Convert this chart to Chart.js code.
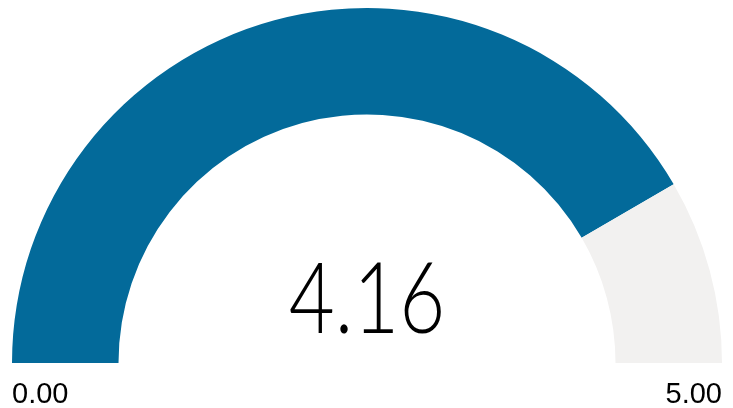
<!DOCTYPE html>
<html lang="en">
<head>
  <meta charset="UTF-8">
  <title>Gauge</title>
  <script src="https://cdn.jsdelivr.net/npm/chart.js"></script>
  <style>
    body { margin: 0; padding: 0; background: #fff; }
    .chart-container { position: relative; width: 733px; height: 408px; }
  </style>
</head>
<body>
  <div class="chart-container">
    <canvas id="gaugeChart"></canvas>
  </div>

  <script>
    // gauge data
    const gaugeMin = 0;
    const gaugeMax = 5;
    const gaugeValue = 4.16;
    const segmentColors = ['#036a9a', '#f2f1f0'];

    const ctx = document.getElementById('gaugeChart').getContext('2d');

    // value in the middle + min/max labels under the ends
    const gaugeTextPlugin = {
      id: 'gaugeText',
      afterDraw(chart) {
        const arc = chart.getDatasetMeta(0).data[0];
        const c = chart.ctx;
        const x = arc.x, y = arc.y, r = arc.outerRadius;
        c.save();
        c.fillStyle = '#000';
        c.textBaseline = 'alphabetic';

        // narrow the value a bit, the original font is condensed
        c.save();
        c.translate(x, y - 30);
        c.scale(0.81, 1);
        c.textAlign = 'center';
        c.font = '300 98px Lato';
        c.fillText(gaugeValue.toFixed(2), 0, 0);
        c.restore();

        c.font = '29px "Liberation Sans", Arial, sans-serif';
        c.textAlign = 'left';
        c.fillText(gaugeMin.toFixed(2), x - r, y + 40);
        c.textAlign = 'right';
        c.fillText(gaugeMax.toFixed(2), x + r, y + 40);
        c.restore();
      }
    };

    new Chart(ctx, {
      type: 'doughnut',
      data: {
        datasets: [{
          data: [gaugeValue - gaugeMin, gaugeMax - gaugeValue],
          backgroundColor: segmentColors,
          borderWidth: 0
        }]
      },
      options: {
        responsive: true,
        maintainAspectRatio: false,
        animation: false,
        rotation: -90,
        circumference: 180,
        cutout: '70%',
        layout: { padding: { left: 12, right: 11, top: 8, bottom: 45 } },
        plugins: {
          legend: { display: false },
          tooltip: { enabled: false }
        }
      },
      plugins: [gaugeTextPlugin]
    });
  </script>
</body>
</html>
